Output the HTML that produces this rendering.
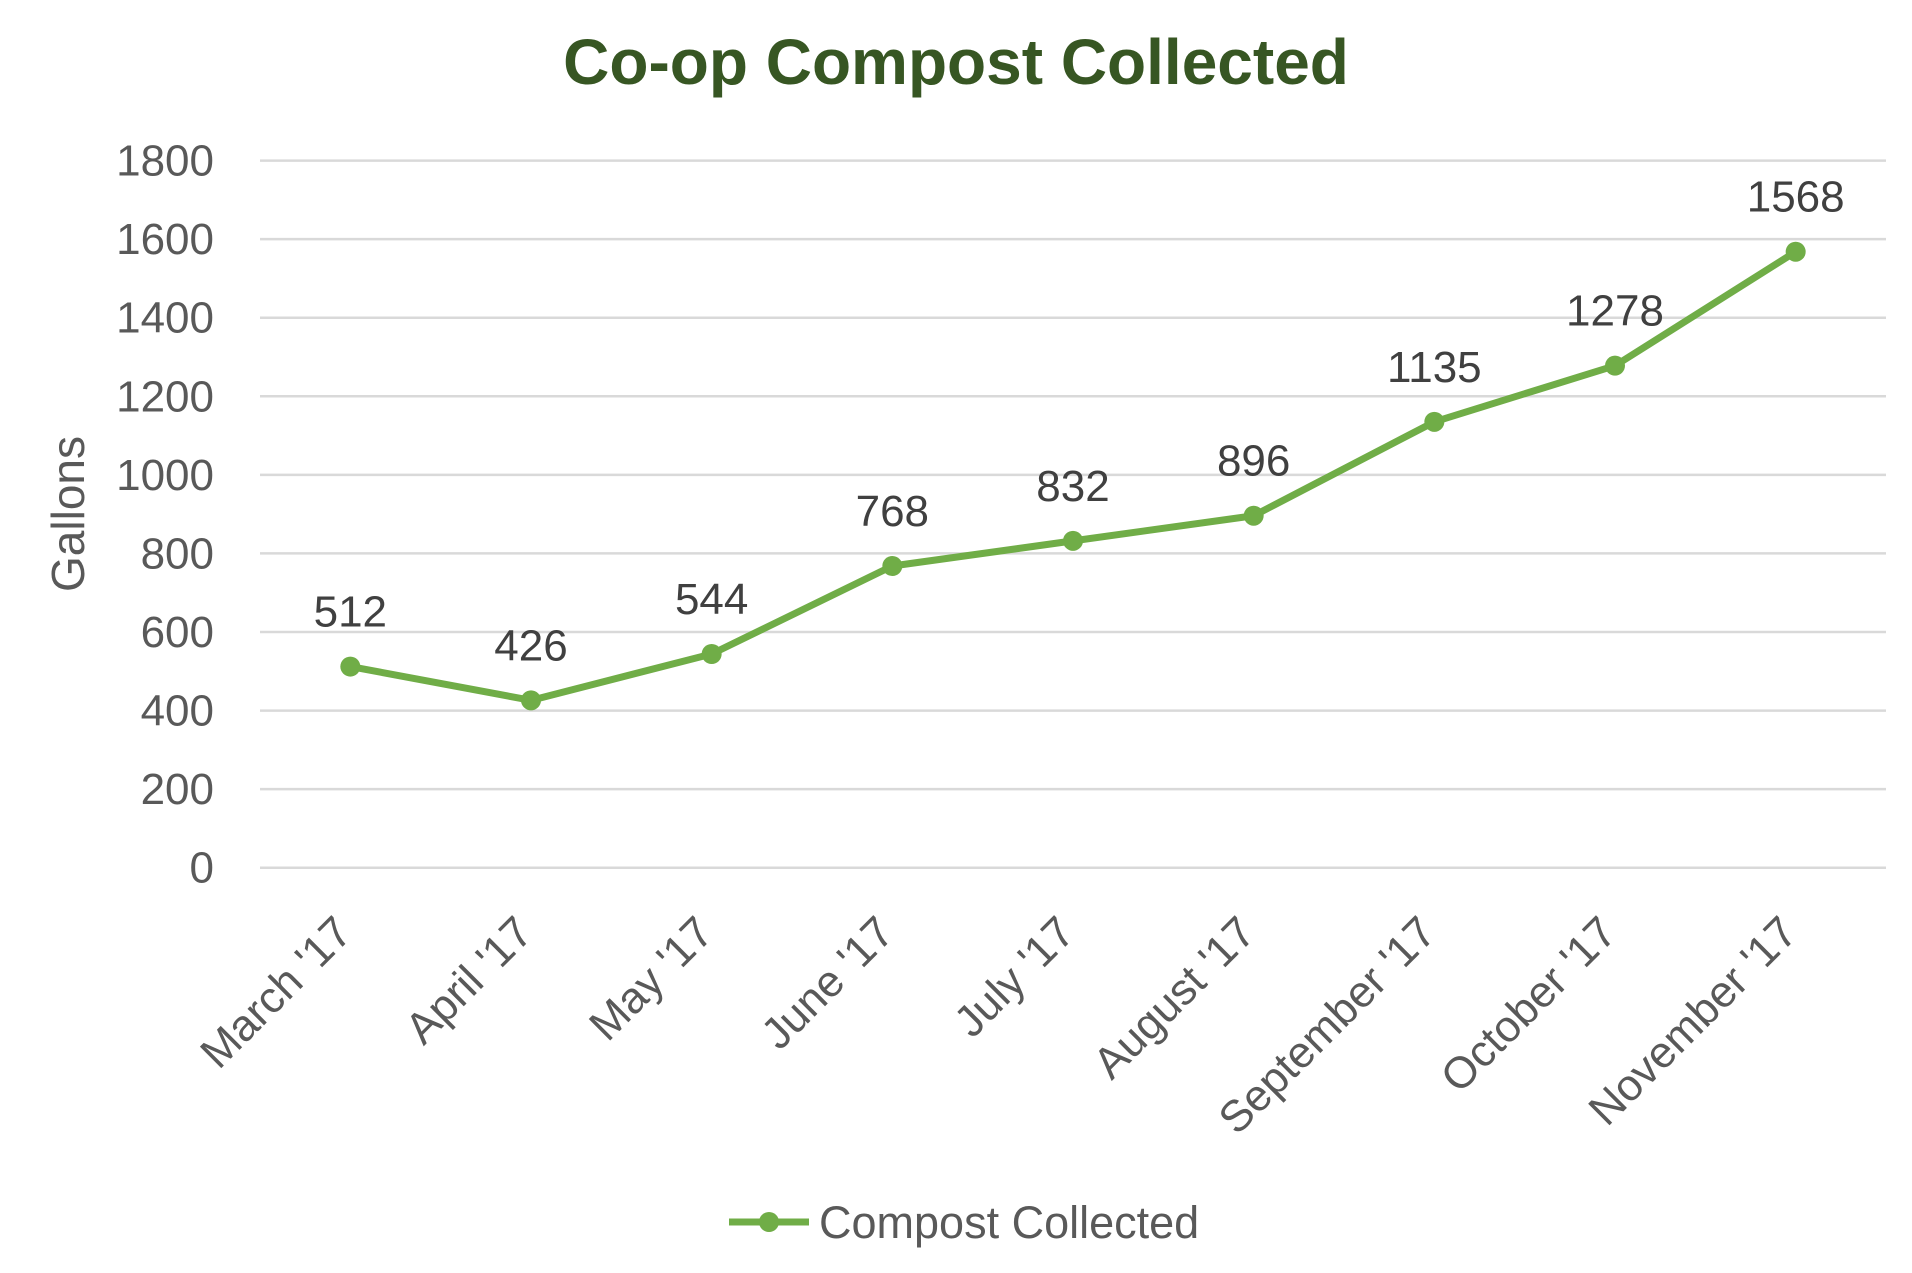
<!DOCTYPE html>
<html><head><meta charset="utf-8"><style>
html,body{margin:0;padding:0;background:#fff;}
svg{display:block;font-family:"Liberation Sans",sans-serif;}
</style></head><body>
<svg id="chart" width="1912" height="1273" viewBox="0 0 1912 1273">
<text x="956" y="84" text-anchor="middle" font-size="64" font-weight="bold" fill="#375623">Co-op Compost Collected</text>
<text transform="translate(84,514) rotate(-90)" text-anchor="middle" font-size="46" fill="#595959">Gallons</text>
<g id="grid"></g><g id="yticks"></g><g id="xticks"></g><g id="series"></g><g id="labels"></g>
<g>
<line x1="729" y1="1222" x2="809" y2="1222" stroke="#70AD47" stroke-width="7"/>
<circle cx="769" cy="1222" r="10" fill="#70AD47"/>
<text x="819" y="1238" font-size="45" fill="#595959">Compost Collected</text>
</g>
</svg>
<script>
const categories=["March '17","April '17","May '17","June '17","July '17","August '17","September '17","October '17","November '17"];
const values=[512,426,544,768,832,896,1135,1278,1568];
const yTicks=[0,200,400,600,800,1000,1200,1400,1600,1800];
const NS="http://www.w3.org/2000/svg";
const L=260,R=1886,T=160.6,B=867.7,yMax=1800;
const xs=i=>L+(R-L)/categories.length*(i+0.5);
const ys=v=>B-(B-T)*v/yMax;
function mk(t,a,p){const e=document.createElementNS(NS,t);for(const k in a)e.setAttribute(k,a[k]);p.appendChild(e);return e;}
const grid=document.getElementById('grid'),yt=document.getElementById('yticks'),xt=document.getElementById('xticks'),se=document.getElementById('series'),lb=document.getElementById('labels');
yTicks.forEach(v=>{
 const g=mk('line',{x1:L,x2:R,y1:ys(v),y2:ys(v),stroke:'#d9d9d9','stroke-width':2.5},grid);
 
 
 const t=mk('text',{x:214,y:ys(v)+15,'text-anchor':'end','font-size':44,fill:'#595959'},yt);
 t.textContent=v;
 
 
});
categories.forEach((c,i)=>{
 const x=xs(i)+4,y=935;
 const t=mk('text',{x:x,y:y,'text-anchor':'end','font-size':44,fill:'#595959',transform:`rotate(-45 ${x} ${y})`},xt);
 t.textContent=c;
 
 
});
const pl=mk('polyline',{points:values.map((v,i)=>xs(i)+','+ys(v)).join(' '),fill:'none',stroke:'#70AD47','stroke-width':7,'stroke-linejoin':'round'},se);


values.forEach((v,i)=>{
 const c=mk('circle',{cx:xs(i),cy:ys(v),r:10,fill:'#70AD47'},se);
 
 
 const t=mk('text',{x:xs(i),y:ys(v)-40,'text-anchor':'middle','font-size':44,fill:'#404040'},lb);
 t.textContent=v;
 
 
});
</script>
</body></html>
